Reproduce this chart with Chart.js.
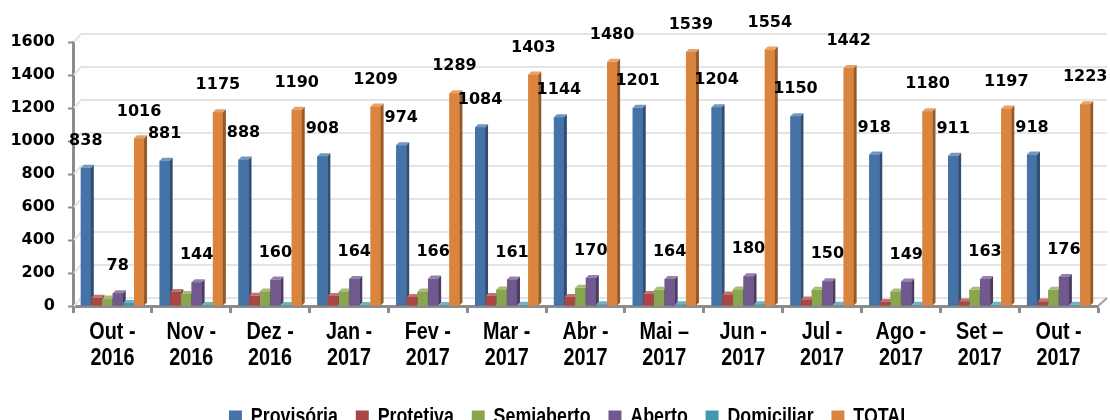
<!DOCTYPE html>
<html><head><meta charset="utf-8">
<script src="https://cdn.jsdelivr.net/npm/chart.js@4/dist/chart.umd.min.js"></script>
<style>html,body{margin:0;padding:0;background:#fff;}#wrap{width:1110px;height:420px;position:relative;}</style>
</head><body><div id="wrap"><canvas id="c" width="1110" height="420"></canvas></div>
<script>
const categories = [['Out -','2016'],['Nov -','2016'],['Dez -','2016'],['Jan -','2017'],['Fev -','2017'],['Mar -','2017'],['Abr -','2017'],['Mai \u2013','2017'],['Jun -','2017'],['Jul -','2017'],['Ago -','2017'],['Set \u2013','2017'],['Out -','2017']];
const seriesNames = ['Provisória','Protetiva','Semiaberto','Aberto','Domiciliar','TOTAL'];
const provisoria = [838,881,888,908,974,1084,1144,1201,1204,1150,918,911,918];
const protetiva  = [50,85,62,60,55,60,55,72,70,40,25,28,28];
const semiaberto = [45,72,88,88,88,100,110,98,100,98,88,98,98];
const aberto     = [78,144,160,164,166,161,170,164,180,150,149,163,176];
const domiciliar = [18,6,6,6,6,8,10,10,10,8,8,8,8];
const total      = [1016,1175,1190,1209,1289,1403,1480,1539,1554,1442,1180,1197,1223];
const yTicks = [0,200,400,600,800,1000,1200,1400,1600];
const labeledSeries = [0,3,5];

const colors = ['#4572A7','#AA4643','#89A54E','#71588F','#4198AF','#DB843D'];
const sans = "'Liberation Sans','Arial',sans-serif";
const wide = "'DejaVu Sans','Verdana',sans-serif";

function shade(hex, f){
  const n = parseInt(hex.slice(1),16);
  let r=(n>>16)&255,g=(n>>8)&255,b=n&255;
  const c = v => Math.max(0,Math.min(255,Math.round(f<1? v*f : v+(255-v)*(f-1))));
  return `rgb(${c(r)},${c(g)},${c(b)})`;
}
const D = 3;

// horizontally condensed text (reference uses a narrow bold face)
const condense = {
  id:'condense',
  beforeDraw(chart){
    const xs = chart.scales.x;
    if (xs && !xs._sq){
      xs._sq = true;
      xs.drawLabels = function(chartArea){
        const ctx = this.ctx;
        const items = this.getLabelItems(chartArea);
        for (const it of items){
          const o = it.options, font = it.font;
          const lines = Array.isArray(it.label) ? it.label : [it.label];
          ctx.save();
          ctx.translate(o.translation[0], o.translation[1]);
          ctx.scale(0.86, 1);
          ctx.font = font.string; ctx.fillStyle = o.color;
          ctx.textAlign = o.textAlign; ctx.textBaseline = o.textBaseline;
          let y = it.textOffset;
          for (const line of lines){ ctx.fillText(line, 0, y); y += font.lineHeight; }
          ctx.restore();
        }
      };
    }
    const lg = chart.legend;
    if (lg && !lg._sq){
      lg._sq = true;
      const orig = lg.draw.bind(lg);
      lg.draw = function(area){
        const ctx = this.ctx, cx = (this.left + this.right)/2;
        ctx.save();
        ctx.translate(570, 0); ctx.scale(0.81, 1); ctx.translate(-cx, 0);
        orig(area);
        ctx.restore();
      };
    }
  }
};

const backGrid = {
  id:'backGrid',
  beforeDatasetsDraw(chart){
    const ctx = chart.ctx, ys = chart.scales.y, a = chart.chartArea;
    ctx.save();
    ctx.strokeStyle = '#e4e4e4'; ctx.lineWidth = 2;
    ys.ticks.forEach(t=>{
      const y = ys.getPixelForValue(t.value);
      ctx.beginPath();
      ctx.moveTo(a.left+1, y); ctx.lineTo(a.left+8, y-8); ctx.lineTo(a.right+9, y-8);
      ctx.stroke();
    });
    ctx.strokeStyle = '#a0a0a0'; ctx.lineWidth = 2;
    ctx.beginPath(); ctx.moveTo(a.right, a.bottom); ctx.lineTo(a.right+9, a.bottom-8); ctx.stroke();
    ctx.restore();
  }
};

const bars3d = {
  id:'bars3d',
  afterDatasetsDraw(chart){
    const ctx = chart.ctx;
    ctx.save();
    chart.data.datasets.forEach((ds,i)=>{
      const meta = chart.getDatasetMeta(i);
      const col = colors[i];
      meta.data.forEach(bar=>{
        const p = bar.getProps(['x','y','base','width'], true);
        const l = p.x - p.width/2, r = p.x + p.width/2, top = p.y, base = p.base;
        ctx.fillStyle = col;
        ctx.fillRect(l, top, p.width, base-top);
        ctx.fillStyle = shade(col,0.68);
        ctx.beginPath(); ctx.moveTo(r,top); ctx.lineTo(r+D,top-D); ctx.lineTo(r+D,base-D); ctx.lineTo(r,base); ctx.closePath(); ctx.fill();
        ctx.fillStyle = shade(col,1.25);
        ctx.beginPath(); ctx.moveTo(l,top); ctx.lineTo(l+D,top-D); ctx.lineTo(r+D,top-D); ctx.lineTo(r,top); ctx.closePath(); ctx.fill();
      });
    });
    ctx.fillStyle = '#000';
    ctx.font = 'bold 16px ' + wide;
    ctx.textAlign = 'center'; ctx.textBaseline = 'middle';
    labeledSeries.forEach(i=>{
      const meta = chart.getDatasetMeta(i);
      meta.data.forEach((bar,j)=>{
        const p = bar.getProps(['x','y'], true);
        ctx.fillText(String(chart.data.datasets[i].data[j]), p.x, p.y - 27);
      });
    });
    ctx.restore();
  }
};

const seriesData = [provisoria, protetiva, semiaberto, aberto, domiciliar, total];

new Chart(document.getElementById('c'), {
  type:'bar',
  data:{
    labels: categories,
    datasets: seriesNames.map((n,i)=>({label:n, data:seriesData[i], backgroundColor:colors[i], borderWidth:0, categoryPercentage:0.81, barPercentage:0.94}))
  },
  options:{
    responsive:false, animation:false, devicePixelRatio:1,
    layout:{padding:{top:42,right:12,left:0,bottom:-18}},
    plugins:{
      tooltip:{enabled:false},
      legend:{position:'bottom', labels:{font:{family:sans,size:22,weight:'bold'}, color:'#000', boxWidth:16, boxHeight:13, padding:22}}
    },
    scales:{
      x:{
        grid:{display:true, drawOnChartArea:false, drawTicks:true, tickLength:7, tickWidth:3, tickColor:'#8c8c8c'},
        border:{display:true, color:'#8c8c8c', width:3},
        ticks:{font:{family:sans,size:23,weight:'bold',lineHeight:1.13}, color:'#000', padding:7, maxRotation:0, autoSkip:false},
        afterFit(s){ s.height = 78; }
      },
      y:{
        min:0, max:1600,
        afterBuildTicks(s){ s.ticks = yTicks.map(v=>({value:v})); },
        grid:{display:true, drawOnChartArea:false, drawTicks:true, tickLength:5, tickWidth:2, tickColor:'#8c8c8c'},
        border:{display:true, color:'#8c8c8c', width:3},
        ticks:{font:{family:wide,size:16,weight:'bold'}, color:'#000', padding:13, callback:(v)=>String(v)},
        afterFit(s){ s.width = 73; }
      }
    }
  },
  plugins:[condense, backGrid, bars3d]
});
</script></body></html>
